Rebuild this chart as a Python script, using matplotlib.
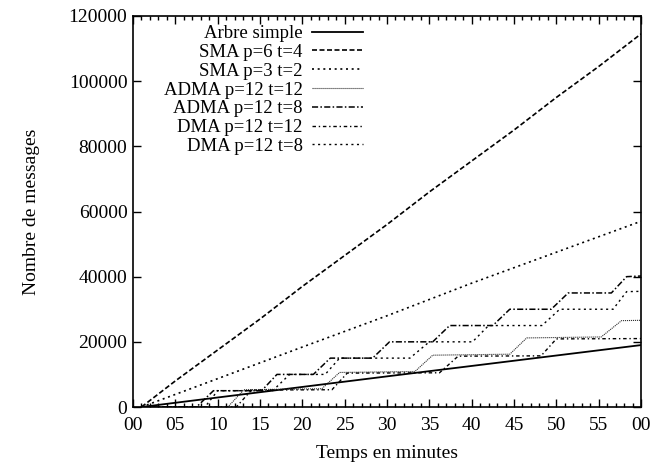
import matplotlib
matplotlib.use('Agg')
import matplotlib.pyplot as plt
from matplotlib.ticker import MultipleLocator, FixedLocator

plt.rcParams['font.family'] = ['Liberation Serif', 'DejaVu Serif']
plt.rcParams['font.size'] = 14

# Data (time in minutes, number of messages)
arbre_t = [1, 30, 60]
arbre_v = [0, 9400, 19000]

sma64_t = [1, 5, 10, 15, 20, 25, 30, 35, 40, 45, 50, 55, 60]
sma64_v = [0, 8000, 17500, 27000, 37000, 46500, 56000, 66000, 75500, 85000, 95000, 104500, 114500]

sma32_t = [1, 10, 20, 30, 40, 50, 60]
sma32_v = [0, 8700, 18400, 28000, 38000, 47500, 57000]

adma12_12_t = [1, 11.2, 13.1, 22.3, 24.4, 33.3, 35.4, 44.5, 46.5, 55.3, 57.7, 60]
adma12_12_v = [0, 0, 5300, 5600, 10600, 10900, 15900, 16200, 21200, 21500, 26500, 26600]

adma12_8_t = [1, 7.5, 9.5, 15.2, 17.0, 21.3, 23.3, 28.3, 30.3, 35.4, 37.4, 42.5, 44.5, 49.4, 51.4, 56.5, 58.3, 60]
adma12_8_v = [0, 0, 5000, 5000, 10000, 10000, 15000, 15000, 20000, 20000, 25000, 25000, 30000, 30000, 35000, 35000, 40000, 40200]

dma12_12_t = [1, 12.2, 14.0, 23.5, 25.3, 36.2, 38.4, 48.2, 50.0, 60]
dma12_12_v = [0, 0, 5200, 5300, 10400, 10500, 15600, 15700, 20900, 21000]

dma12_8_t = [1, 8.5, 10.0, 16.5, 18.5, 22.7, 24.4, 32.7, 35.0, 40.1, 42.0, 48.3, 50.4, 56.7, 58.3, 60]
dma12_8_v = [0, 0, 5000, 5000, 10000, 10000, 15000, 15000, 20000, 20000, 25000, 25000, 30000, 30000, 35400, 35500]

xticks = list(range(0, 61, 5))
xtick_labels = ['%02d' % (m % 60) for m in xticks]
yticks = list(range(0, 120001, 20000))

fig = plt.figure(figsize=(6.68, 4.66), dpi=100)
ax = fig.add_axes([133 / 668, 1 - 407 / 466, (641 - 133) / 668, (407 - 16) / 466])

ax.plot(arbre_t, arbre_v, color='black', lw=1.3, label='Arbre simple')
ax.plot(sma64_t, sma64_v, color='black', lw=1.2, dashes=(3, 1.5), label='SMA p=6 t=4')
ax.plot(sma32_t, sma32_v, color='black', lw=1.2, dashes=(1.2, 2.2), label='SMA p=3 t=2')
ax.plot(adma12_12_t, adma12_12_v, color='#333333', lw=0.8, dashes=(1, 0.8), label='ADMA p=12 t=12')
ax.plot(adma12_8_t, adma12_8_v, color='black', lw=1.1, dashes=(4, 1.5, 1, 1.5), label='ADMA p=12 t=8')
ax.plot(dma12_12_t, dma12_12_v, color='black', lw=1.0, dashes=(2.5, 2, 1, 2), label='DMA p=12 t=12')
ax.plot(dma12_8_t, dma12_8_v, color='black', lw=1.0, dashes=(1.5, 2.5), label='DMA p=12 t=8')

ax.set_xlim(0, 60)
ax.set_ylim(0, 120000)
ax.xaxis.set_major_locator(FixedLocator(xticks))
ax.set_xticklabels(xtick_labels)
ax.xaxis.set_minor_locator(MultipleLocator(1))
ax.set_yticks(yticks)
ax.set_yticklabels([str(v) for v in yticks])

ax.tick_params(which='both', direction='in', top=True, right=True, width=1)
ax.tick_params(which='major', length=6)
ax.tick_params(axis='x', which='major', pad=7)
ax.tick_params(axis='y', which='major', pad=4)
ax.tick_params(which='minor', length=3)
for s in ax.spines.values():
    s.set_linewidth(1.2)

ax.set_xlabel('Temps en minutes', labelpad=8)
ax.set_ylabel('Nombre de messages', labelpad=21)

ax.legend(loc='upper right', bbox_to_anchor=(0.452, 0.977), frameon=False,
          markerfirst=False, handlelength=2.7, handletextpad=0.5,
          labelspacing=0.09, borderpad=0, borderaxespad=0, fontsize=13.5)

plt.savefig('out.png', dpi=100)
